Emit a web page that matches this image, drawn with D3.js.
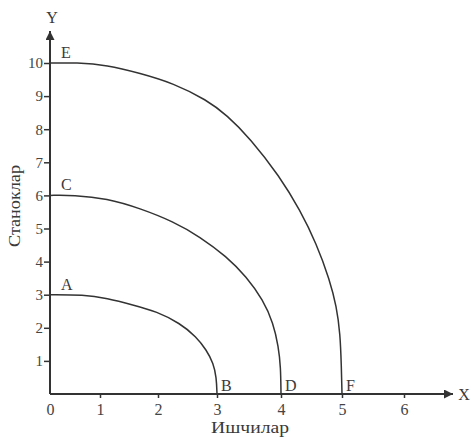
<!DOCTYPE html>
<html>
<head>
<meta charset="utf-8">
<script src="https://cdn.jsdelivr.net/npm/d3@7"></script>
<style>
  body { margin: 0; background: #fff; }
  text { font-family: "Liberation Serif", "DejaVu Serif", serif; fill: #3a3a3a; }
</style>
</head>
<body>
<div id="chart"></div>
<script>
var width = 470,
    height = 439;

// tick values
var xTicks = [0, 1, 2, 3, 4, 5, 6];
var yTicks = [1, 2, 3, 4, 5, 6, 7, 8, 9, 10];

// curves: [x, y]
var curveAB = [[0, 3], [0.67, 3], [1.12, 2.89], [1.57, 2.69], [1.98, 2.49], [2.37, 2.14],
               [2.65, 1.73], [2.82, 1.33], [2.94, 0.93], [2.99, 0.5], [3, 0]];
var curveCD = [[0, 6], [0.47, 6.01], [1.12, 5.91], [1.69, 5.61], [2.26, 5.21], [2.71, 4.75],
               [3.15, 4.15], [3.46, 3.54], [3.72, 2.84], [3.88, 2.14], [3.96, 1.43],
               [3.995, 0.82], [4, 0]];
var curveEF = [[0, 10], [0.53, 10.01], [1.12, 9.94], [1.69, 9.69], [2.26, 9.39], [2.83, 8.88],
               [3.15, 8.43], [3.52, 7.72], [3.98, 6.57], [4.31, 5.56], [4.58, 4.55],
               [4.8, 3.44], [4.91, 2.64], [4.97, 1.83], [4.99, 0.82], [5, 0]];

// point labels: [name, x, y]
var labels = [["A", 0, 3], ["C", 0, 6], ["E", 0, 10], ["B", 3, 0], ["D", 4, 0], ["F", 5, 0]];

var svg = d3.select("#chart")
    .append("svg")
    .attr("width", width)
    .attr("height", height);

// the scanned axis is a bit uneven, so the x scale follows its ticks
var x = d3.scaleLinear()
    .domain(xTicks)
    .range([50, 100, 158, 217, 281, 342, 404]);

var y = d3.scaleLinear()
    .domain([0, 10])
    .range([394, 63]);

svg.append("defs").append("marker")
    .attr("id", "arrow")
    .attr("viewBox", "0 0 10 10")
    .attr("refX", 10)
    .attr("refY", 5)
    .attr("markerWidth", 15)
    .attr("markerHeight", 9)
    .attr("markerUnits", "userSpaceOnUse")
    .attr("orient", "auto")
    .append("path")
    .attr("d", "M0,0 L10,5 L0,10 z")
    .style("fill", "#333");

/* axis lines with arrows */
svg.append("line")
    .attr("x1", x(0)).attr("y1", y(0))
    .attr("x2", 453).attr("y2", y(0))
    .attr("marker-end", "url(#arrow)")
    .style("stroke", "#333").style("stroke-width", 2);

svg.append("line")
    .attr("x1", x(0)).attr("y1", y(0))
    .attr("x2", x(0)).attr("y2", 31)
    .attr("marker-end", "url(#arrow)")
    .style("stroke", "#333").style("stroke-width", 2);

/* ticks */
var xAxis = svg.append("g")
    .attr("transform", "translate(0," + y(0) + ")")
    .call(d3.axisBottom(x).tickValues(xTicks).tickFormat(d3.format("d")).tickSize(4).tickPadding(6));
xAxis.select(".domain").remove();
xAxis.selectAll("line").style("stroke", "#333").style("stroke-width", 1.5);
xAxis.selectAll("text").style("font-size", "16px").style("font-family", "Liberation Serif").style("fill", "#444");
xAxis.selectAll(".tick").filter(function(d) { return d === 0; }).select("line").remove();

var yAxis = svg.append("g")
    .attr("transform", "translate(" + x(0) + ",0)")
    .call(d3.axisLeft(y).tickValues(yTicks).tickFormat(d3.format("d")).tickSize(6).tickPadding(1));
yAxis.select(".domain").remove();
yAxis.selectAll("line").style("stroke", "#333").style("stroke-width", 1.5);
yAxis.selectAll("text").style("font-size", "15px").style("font-family", "Liberation Serif").style("fill", "#444");

/* curves */
var line = d3.line()
    .x(function(d) { return x(d[0]); })
    .y(function(d) { return y(d[1]); })
    .curve(d3.curveBasis);

[curveAB, curveCD, curveEF].forEach(function(c) {
  svg.append("path")
      .datum(c)
      .attr("d", line)
      .style("fill", "none")
      .style("stroke", "#333")
      .style("stroke-width", 1.5);
});

/* point letters */
svg.selectAll(".pt")
    .data(labels)
    .enter().append("text")
    .attr("class", "pt")
    .attr("x", function(d) { return x(d[1]) + (d[2] === 0 ? 4 : 11); })
    .attr("y", function(d) { return y(d[2]) - (d[2] === 0 ? 3 : 5); })
    .style("font-size", "16px")
    .text(function(d) { return d[0]; });

/* axis names */
svg.append("text")
    .attr("x", 52).attr("y", 23)
    .attr("text-anchor", "middle")
    .style("font-size", "16px")
    .text("Y");

svg.append("text")
    .attr("x", 464).attr("y", 400)
    .attr("text-anchor", "middle")
    .style("font-size", "16px")
    .text("X");

svg.append("text")
    .attr("x", 250).attr("y", 433)
    .attr("text-anchor", "middle")
    .attr("textLength", 78)
    .attr("lengthAdjust", "spacingAndGlyphs")
    .style("font-size", "16px")
    .text("Ишчилар");

svg.append("text")
    .attr("transform", "translate(20,206) rotate(-90)")
    .attr("text-anchor", "middle")
    .attr("textLength", 82)
    .attr("lengthAdjust", "spacingAndGlyphs")
    .style("font-size", "17px")
    .text("Станоклар");
</script>
</body>
</html>
